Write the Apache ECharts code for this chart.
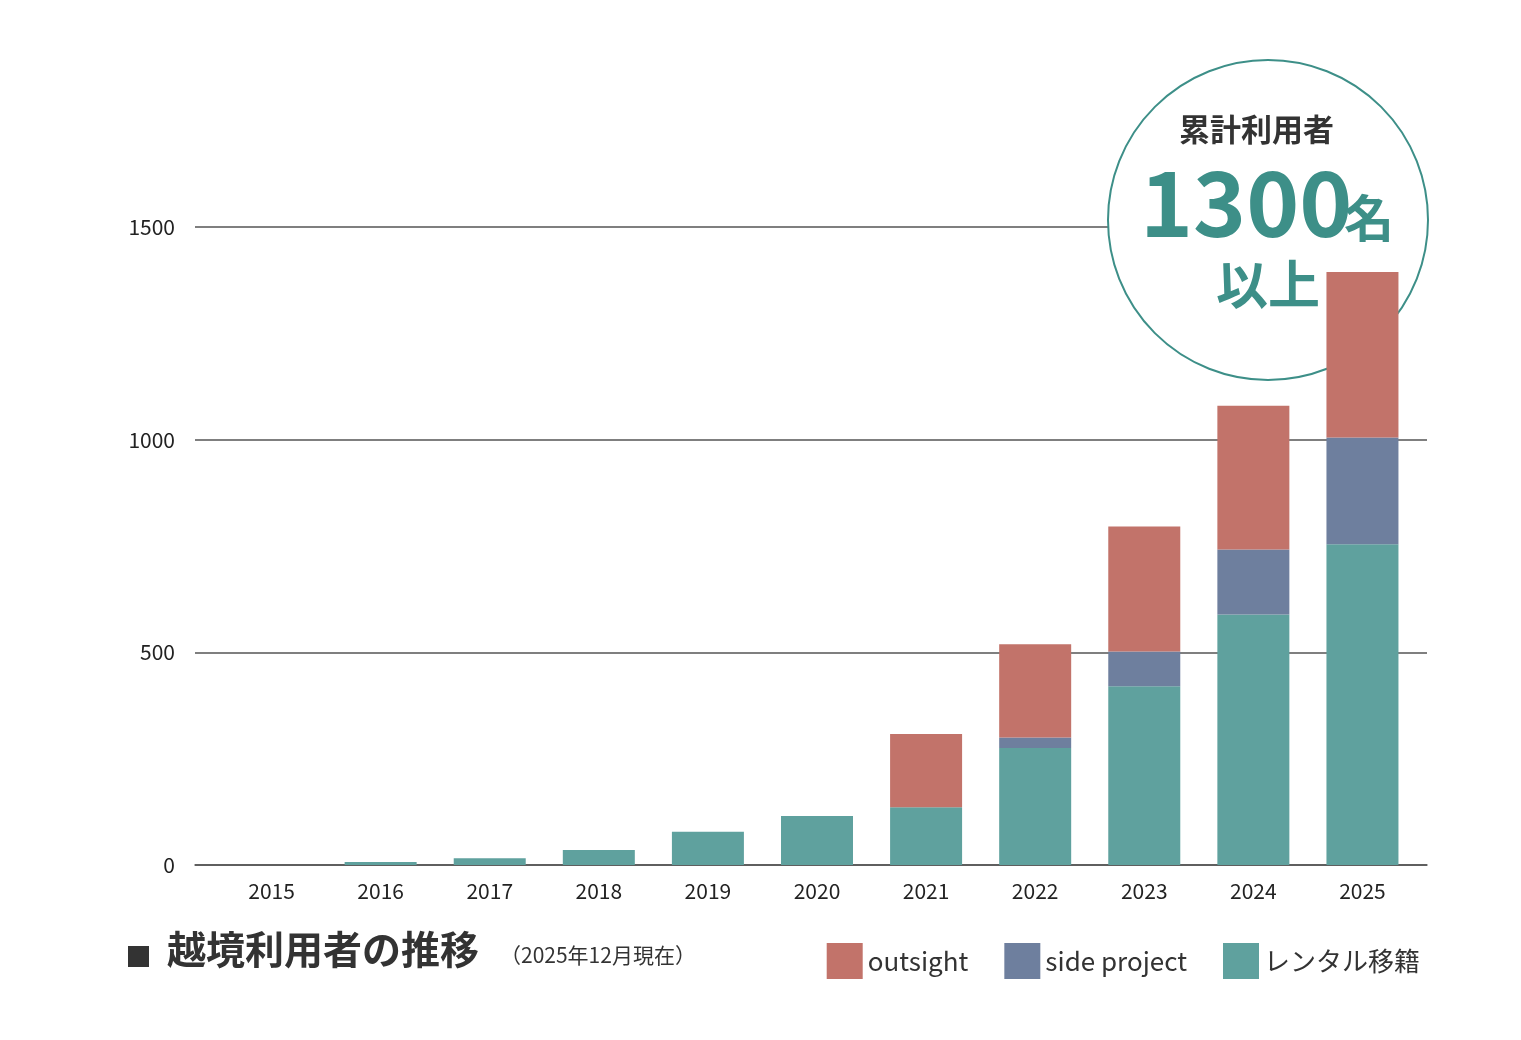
<!DOCTYPE html>
<html>
<head>
<meta charset="utf-8">
<script src="https://cdn.jsdelivr.net/npm/echarts@6/dist/echarts.min.js"></script>
<style>
  html, body { margin: 0; padding: 0; background: #fff; }
  #chart { width: 1521px; height: 1040px; }
</style>
</head>
<body>
<div id="chart"></div>
<script>
const years = ['2015', '2016', '2017', '2018', '2019', '2020', '2021', '2022', '2023', '2024', '2025'];
const rental = [0, 7, 16, 35, 78, 115, 136, 275, 420, 589, 754];
const sideProject = [0, 0, 0, 0, 0, 0, 0, 25, 82, 153, 251];
const outsight = [0, 0, 0, 0, 0, 0, 172, 219, 294, 338, 389];
const yTicks = [0, 500, 1000, 1500];

const font = '"Noto Sans CJK JP", "Noto Sans", sans-serif';
const chart = echarts.init(document.getElementById('chart'));

chart.setOption({
    animation: false,
    textStyle: { fontFamily: font },
    // grid 0: gridlines and y labels, grid 1: the bars
    grid: [
        { left: 195, right: 94, top: 227, bottom: 175 },
        { left: 217, right: 104, top: 227, bottom: 175 }
    ],
    legend: {
        data: ['outsight', 'side project', 'レンタル移籍'],
        right: 96,
        top: 938,
        itemWidth: 36,
        itemHeight: 36,
        itemGap: 36,
        icon: 'rect',
        textStyle: { fontSize: 26, color: '#333', fontFamily: font, padding: [0, 0, 0, 0] }
    },
    xAxis: [
        {
            gridIndex: 0, type: 'category', data: years,
            axisTick: { show: false }, axisLabel: { show: false },
            axisLine: { lineStyle: { color: '#555', width: 1.5 } }
        },
        {
            gridIndex: 1, type: 'category', data: years,
            axisTick: { show: false },
            axisLine: { show: false },
            axisLabel: { fontSize: 21, color: '#222', margin: 16 }
        }
    ],
    yAxis: [
        {
            gridIndex: 0, type: 'value', min: 0, max: yTicks[yTicks.length - 1], interval: 500,
            axisLabel: { fontSize: 21, color: '#222', margin: 20, formatter: v => String(v) },
            splitLine: { lineStyle: { color: '#555', width: 1.5 } }
        },
        {
            gridIndex: 1, type: 'value', min: 0, max: yTicks[yTicks.length - 1], interval: 500,
            axisLabel: { show: false }, splitLine: { show: false }
        }
    ],
    graphic: [
        {
            type: 'circle', z: 1,
            shape: { cx: 1268, cy: 220, r: 160 },
            style: { fill: '#fff', stroke: '#3d8f88', lineWidth: 2 }
        },
        {
            type: 'text', z: 1, left: 1179, top: 114,
            style: { text: '累計利用者', font: 'bold 31px ' + font, fill: '#333' }
        },
        {
            type: 'text', z: 1, left: 1140, top: 158,
            style: { text: '1300', font: 'bold 90px ' + font, fill: '#3d8f88' }
        },
        {
            type: 'text', z: 1, left: 1344, top: 193,
            style: { text: '名', font: 'bold 50px ' + font, fill: '#3d8f88' }
        },
        {
            type: 'text', z: 1, left: 1216, top: 258,
            style: { text: '以上', font: 'bold 52px ' + font, fill: '#3d8f88' }
        },
        {
            type: 'rect', left: 128, top: 946,
            shape: { width: 21, height: 21 },
            style: { fill: '#333' }
        },
        {
            type: 'text', left: 167, top: 930,
            style: { text: '越境利用者の推移', font: 'bold 39px ' + font, fill: '#333' }
        },
        {
            type: 'text', left: 500, top: 945,
            style: { text: '（2025年12月現在）', font: '21px ' + font, fill: '#333' }
        }
    ],
    series: [
        { name: 'レンタル移籍', type: 'bar', stack: 'total', xAxisIndex: 1, yAxisIndex: 1, data: rental, barWidth: '66%', itemStyle: { color: '#5fa19e' } },
        { name: 'side project', type: 'bar', stack: 'total', xAxisIndex: 1, yAxisIndex: 1, data: sideProject, itemStyle: { color: '#6e7f9e' } },
        { name: 'outsight', type: 'bar', stack: 'total', xAxisIndex: 1, yAxisIndex: 1, data: outsight, itemStyle: { color: '#c2736a' } }
    ]
});
</script>
</body>
</html>
